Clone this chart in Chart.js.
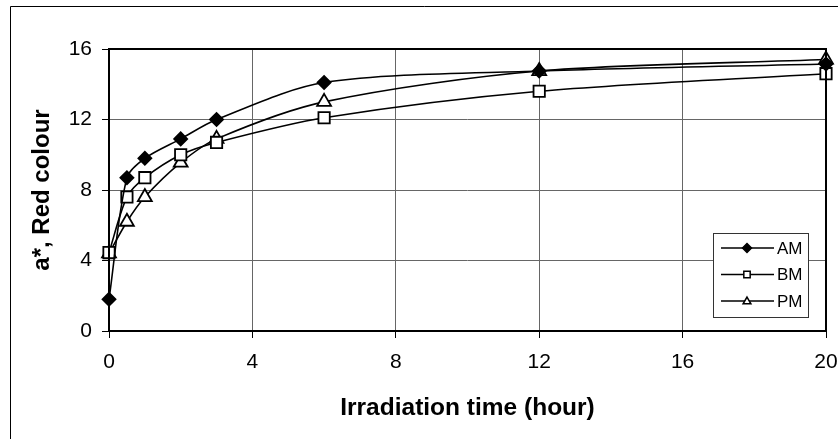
<!DOCTYPE html>
<html>
<head>
<meta charset="utf-8">
<script src="https://cdn.jsdelivr.net/npm/chart.js@4/dist/chart.umd.min.js"></script>
<style>
  html, body { margin: 0; padding: 0; background: #fff; }
  canvas { display: block; }
</style>
</head>
<body>
<canvas id="chart" width="838" height="439"></canvas>
<script>
// Irradiation times (hour)
const hours = [0, 0.5, 1, 2, 3, 6, 12, 20];
// a* values
const amValues = [1.8, 8.7, 9.8, 10.9, 12.0, 14.1, 14.75, 15.15];
const bmValues = [4.45, 7.6, 8.7, 10.0, 10.7, 12.1, 13.6, 14.6];
const pmValues = [4.4, 6.2, 7.6, 9.55, 10.9, 13.0, 14.75, 15.4];
const seriesNames = ['AM', 'BM', 'PM'];
const xTicks = [0, 4, 8, 12, 16, 20];
const yTicks = [0, 4, 8, 12, 16];

const toPoints = vals => hours.map((h, i) => ({ x: h, y: vals[i] }));

function makeSet(label, vals, style, radius, fill) {
    return {
        label: label,
        data: toPoints(vals),
        showLine: true,
        clip: false,
        borderColor: '#000',
        borderWidth: 1.6,
        tension: 0.3,
        pointStyle: style,
        pointRadius: radius,
        pointBackgroundColor: fill,
        pointBorderColor: '#000',
        pointBorderWidth: 1.8
    };
}

// frame, outer border and the boxed legend
const framePlugin = {
    id: 'frame',
    afterDraw(chart) {
        const ctx = chart.ctx;
        const a = chart.chartArea;
        ctx.save();
        ctx.strokeStyle = '#000';
        ctx.lineWidth = 1;
        ctx.beginPath();
        ctx.moveTo(10.5, 440);
        ctx.lineTo(10.5, 6.5);
        ctx.lineTo(840, 6.5);
        ctx.stroke();

        ctx.lineWidth = 2;
        ctx.strokeRect(a.left, a.top, a.right - a.left, a.bottom - a.top);

        // legend
        const lx = 713, ly = 233, lw = 95, lh = 84;
        ctx.fillStyle = '#fff';
        ctx.fillRect(lx, ly, lw, lh);
        ctx.lineWidth = 1;
        ctx.strokeStyle = '#333';
        ctx.strokeRect(lx + 0.5, ly + 0.5, lw, lh);

        ctx.font = '17px "Liberation Sans", Arial, sans-serif';
        ctx.textBaseline = 'middle';
        chart.data.datasets.forEach((ds, i) => {
            const y = ly + 15 + i * 26.5;
            ctx.strokeStyle = '#000';
            ctx.lineWidth = 1.5;
            ctx.beginPath();
            ctx.moveTo(lx + 8, y);
            ctx.lineTo(lx + 61, y);
            ctx.stroke();
            ctx.fillStyle = ds.pointBackgroundColor;
            Chart.helpers.drawPoint(ctx, {
                pointStyle: ds.pointStyle,
                rotation: 0,
                radius: 4.5,
                borderWidth: 1.5
            }, lx + 34, y + (ds.pointStyle === 'triangle' ? 0.5 : 0));
            ctx.fillStyle = '#000';
            ctx.fillText(ds.label, lx + 64, y + 1);
        });
        ctx.restore();
    }
};

const tickFont = { family: '"Liberation Sans", Arial, sans-serif', size: 21 };

new Chart(document.getElementById('chart'), {
    type: 'scatter',
    data: {
        datasets: [
            makeSet(seriesNames[0], amValues, 'rectRot', 6.5, '#000'),
            makeSet(seriesNames[1], bmValues, 'rect', 8, '#fff'),
            makeSet(seriesNames[2], pmValues, 'triangle', 8, '#fff')
        ]
    },
    options: {
        responsive: false,
        animation: false,
        devicePixelRatio: 1,
        layout: { padding: { left: 0, top: 49, right: 12, bottom: 0 } },
        plugins: {
            legend: { display: false },
            tooltip: { enabled: false }
        },
        scales: {
            x: {
                type: 'linear',
                min: 0,
                max: 20,
                afterFit: s => { s.height = 108; s.paddingLeft = 0; s.paddingRight = 0; },
                afterBuildTicks: s => { s.ticks = xTicks.map(v => ({ value: v })); },
                ticks: { color: '#000', font: tickFont, padding: 12, maxRotation: 0 },
                grid: { color: '#666', lineWidth: 1, tickLength: 7, tickColor: '#000' },
                border: { display: false },
                title: {
                    display: true,
                    text: 'Irradiation time (hour)',
                    color: '#000',
                    font: { family: '"Liberation Sans", Arial, sans-serif', size: 24.5, weight: 'bold' },
                    padding: { top: 0, bottom: 16 }
                }
            },
            y: {
                type: 'linear',
                min: 0,
                max: 16,
                afterFit: s => { s.width = 109; s.paddingTop = 0; s.paddingBottom = 0; },
                afterBuildTicks: s => { s.ticks = yTicks.map(v => ({ value: v })); },
                ticks: { color: '#000', font: tickFont, padding: 10 },
                grid: { color: '#666', lineWidth: 1, tickLength: 7, tickColor: '#000' },
                border: { display: false },
                title: {
                    display: true,
                    text: 'a*, Red colour',
                    color: '#000',
                    font: { family: '"Liberation Sans", Arial, sans-serif', size: 24, weight: 'bold' },
                    padding: { top: 28, bottom: 0 }
                }
            }
        }
    },
    plugins: [framePlugin]
});
</script>
</body>
</html>
